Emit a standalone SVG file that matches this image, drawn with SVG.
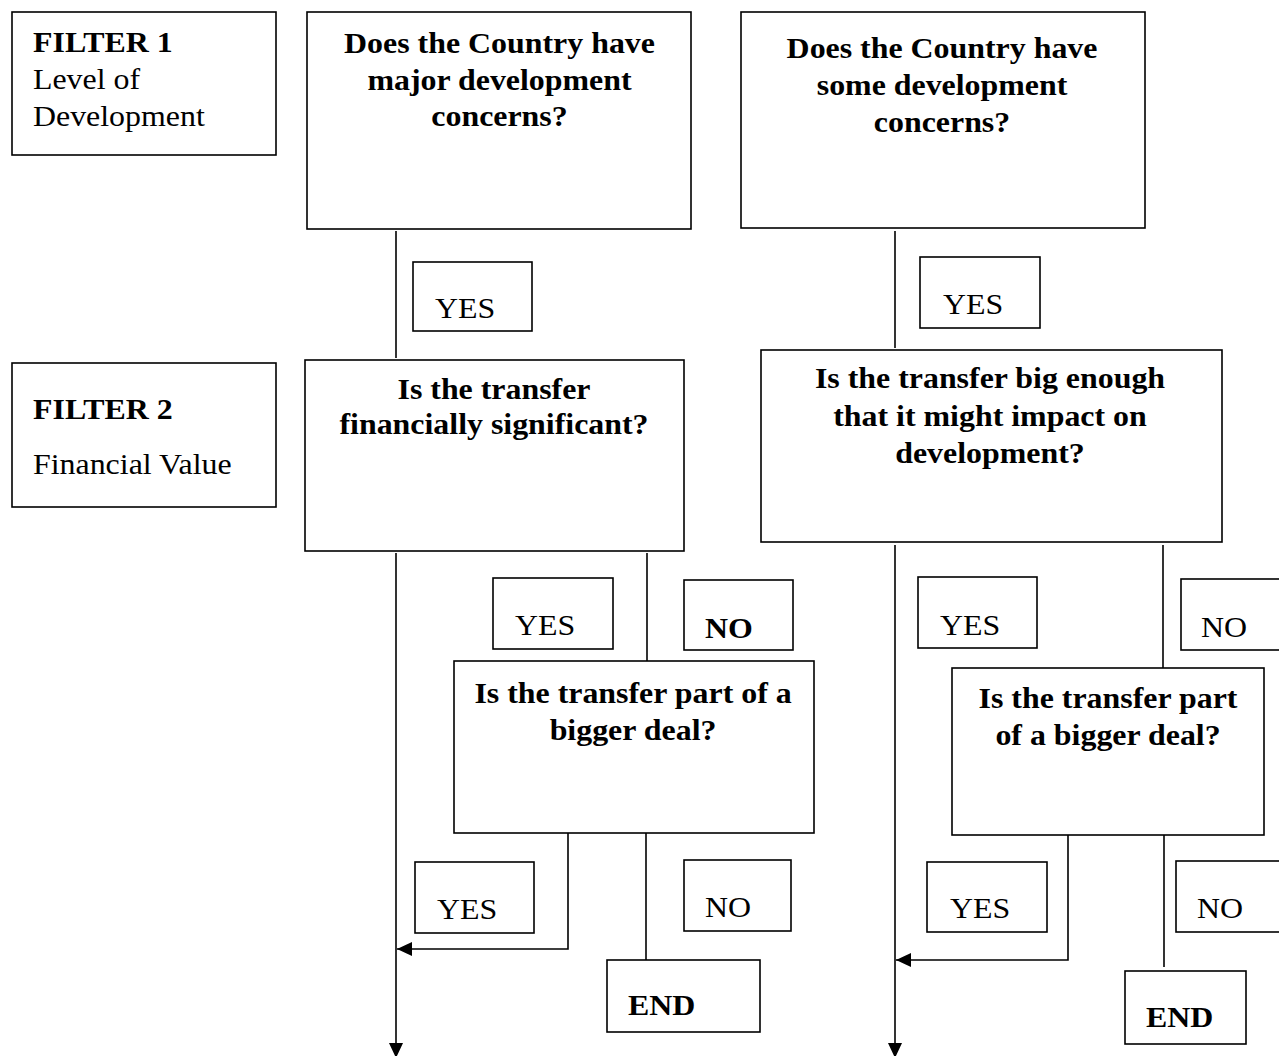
<svg xmlns="http://www.w3.org/2000/svg" width="1279" height="1056" viewBox="0 0 1279 1056">
<style>
.box{fill:#fff;stroke:#000;stroke-width:1.6}
.ln{fill:none;stroke:#000;stroke-width:1.6}
text{font-family:"Liberation Serif","Times New Roman",serif;font-size:29px;fill:#000}
.b{font-weight:bold}
.c{text-anchor:middle}
</style>
<defs>
<marker id="ah" markerUnits="userSpaceOnUse" markerWidth="16" markerHeight="14" refX="15" refY="7" orient="auto">
<path d="M0,0 L15,7 L0,14 z" fill="#000"/>
</marker>
</defs>
<rect width="1279" height="1056" fill="#fff"/>
<g id="connectors">
<path class="ln" d="M396,231 V358"/>
<path class="ln" d="M895,231 V348"/>
<path class="ln" d="M396,553 V1058" marker-end="url(#ah)"/>
<path class="ln" d="M647,553 V661"/>
<path class="ln" d="M568,828 V949 H397" marker-end="url(#ah)"/>
<path class="ln" d="M646,827 V960"/>
<path class="ln" d="M895,545 V1058" marker-end="url(#ah)"/>
<path class="ln" d="M1163,545 V668"/>
<path class="ln" d="M1068,834 V960 H896" marker-end="url(#ah)"/>
<path class="ln" d="M1164,834 V967"/>
</g>
<g id="filter1">
<rect class="box" x="12" y="12" width="264" height="143"/>
<text class="b" transform="scale(1.1 1)" x="30" y="52">FILTER 1</text>
<text transform="scale(1.1 1)" x="30" y="89">Level of</text>
<text transform="scale(1.1 1)" x="30" y="126">Development</text>
</g>
<g id="q-major">
<rect class="box" x="307" y="12" width="384" height="217"/>
<text class="b c" transform="scale(1.1 1)" x="454.1" y="53">Does the Country have</text>
<text class="b c" transform="scale(1.1 1)" x="454.1" y="90">major development</text>
<text class="b c" transform="scale(1.1 1)" x="454.1" y="126">concerns?</text>
</g>
<g id="q-some">
<rect class="box" x="741" y="12" width="404" height="216"/>
<text class="b c" transform="scale(1.1 1)" x="856.4" y="58">Does the Country have</text>
<text class="b c" transform="scale(1.1 1)" x="856.4" y="95">some development</text>
<text class="b c" transform="scale(1.1 1)" x="856.4" y="132">concerns?</text>
</g>
<g id="yes1">
<rect class="box" x="413" y="262" width="119" height="69"/>
<text transform="scale(1.1 1)" x="395.5" y="318">YES</text>
</g>
<g id="yes2">
<rect class="box" x="920" y="257" width="120" height="71"/>
<text transform="scale(1.1 1)" x="857.3" y="314">YES</text>
</g>
<g id="filter2">
<rect class="box" x="12" y="363" width="264" height="144"/>
<text class="b" transform="scale(1.1 1)" x="30" y="419">FILTER 2</text>
<text transform="scale(1.1 1)" x="30" y="474">Financial Value</text>
</g>
<g id="q-significant">
<rect class="box" x="305" y="360" width="379" height="191"/>
<text class="b c" transform="scale(1.1 1)" x="449.1" y="399">Is the transfer</text>
<text class="b c" transform="scale(1.1 1)" x="449.1" y="434">financially significant?</text>
</g>
<g id="q-bigenough">
<rect class="box" x="761" y="350" width="461" height="192"/>
<text class="b c" transform="scale(1.1 1)" x="900" y="388">Is the transfer big enough</text>
<text class="b c" transform="scale(1.1 1)" x="900" y="426">that it might impact on</text>
<text class="b c" transform="scale(1.1 1)" x="900" y="463">development?</text>
</g>
<g id="yes3">
<rect class="box" x="493" y="578" width="120" height="71"/>
<text transform="scale(1.1 1)" x="468.2" y="635">YES</text>
</g>
<g id="no1">
<rect class="box" x="684" y="580" width="109" height="70"/>
<text class="b" transform="scale(1.1 1)" x="640.9" y="638">NO</text>
</g>
<g id="yes4">
<rect class="box" x="918" y="577" width="119" height="71"/>
<text transform="scale(1.1 1)" x="854.5" y="635">YES</text>
</g>
<g id="no2">
<rect class="box" x="1181" y="579" width="110" height="71"/>
<text transform="scale(1.1 1)" x="1091.8" y="637">NO</text>
</g>
<g id="q-deal-left">
<rect class="box" x="454" y="661" width="360" height="172"/>
<text class="b c" transform="scale(1.1 1)" x="575.5" y="703">Is the transfer part of a</text>
<text class="b c" transform="scale(1.1 1)" x="575.5" y="740">bigger deal?</text>
</g>
<g id="q-deal-right">
<rect class="box" x="952" y="668" width="312" height="167"/>
<text class="b c" transform="scale(1.1 1)" x="1007.3" y="708">Is the transfer part</text>
<text class="b c" transform="scale(1.1 1)" x="1007.3" y="745">of a bigger deal?</text>
</g>
<g id="yes5">
<rect class="box" x="415" y="862" width="119" height="71"/>
<text transform="scale(1.1 1)" x="397.3" y="919">YES</text>
</g>
<g id="no3">
<rect class="box" x="684" y="860" width="107" height="71"/>
<text transform="scale(1.1 1)" x="640.9" y="917">NO</text>
</g>
<g id="end1">
<rect class="box" x="607" y="960" width="153" height="72"/>
<text class="b" transform="scale(1.1 1)" x="570.9" y="1015">END</text>
</g>
<g id="yes6">
<rect class="box" x="927" y="862" width="120" height="70"/>
<text transform="scale(1.1 1)" x="863.6" y="918">YES</text>
</g>
<g id="no4">
<rect class="box" x="1176" y="861" width="115" height="71"/>
<text transform="scale(1.1 1)" x="1088.2" y="918">NO</text>
</g>
<g id="end2">
<rect class="box" x="1125" y="971" width="121" height="73"/>
<text class="b" transform="scale(1.1 1)" x="1041.8" y="1027">END</text>
</g>
</svg>
